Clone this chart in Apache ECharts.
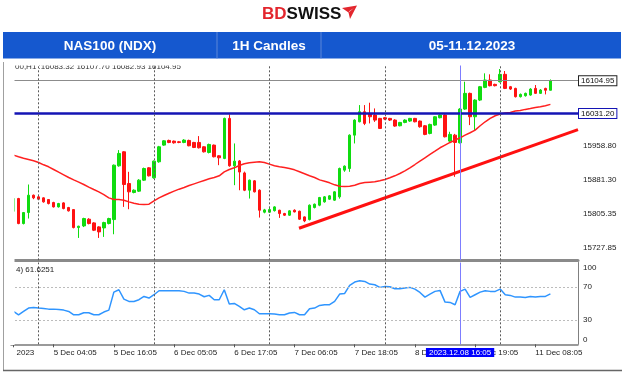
<!DOCTYPE html>
<html><head><meta charset="utf-8">
<script src="https://cdn.jsdelivr.net/npm/echarts@6/dist/echarts.min.js"></script>
<style>html,body{margin:0;padding:0;background:#fff;}#c{width:624px;height:375px;}</style>
</head><body><div id="c"></div>
<script>
// [open, close, low, high]
const candles = [
[15810.7,15839.3,15808.0,15842.0],[15839.3,15782.9,15781.4,15840.8],[15782.9,15807.7,15781.0,15809.0],[15807.7,15846.8,15794.2,15870.9],
[15846.8,15840.8,15837.8,15848.3],[15843.1,15837.8,15836.0,15845.0],[15840.8,15831.8,15830.0,15842.0],[15837.0,15828.0,15826.0,15838.0],
[15830.3,15820.5,15819.0,15832.0],[15820.5,15828.0,15819.0,15829.5],[15829.5,15816.7,15815.0,15831.0],[15819.0,15811.5,15810.0,15820.5],
[15814.4,15773.9,15772.0,15815.5],[15773.9,15776.9,15750.5,15778.0],[15777.6,15794.2,15775.0,15796.0],[15792.7,15782.9,15781.0,15795.0],
[15784.4,15767.9,15766.0,15786.0],[15775.4,15764.1,15750.5,15777.0],[15773.1,15785.1,15752.8,15787.0],[15782.9,15794.2,15781.0,15796.0],
[15791.9,15914.5,15758.8,15916.0],[15913.0,15940.9,15911.0,15948.4],[15944.6,15870.9,15820.5,15946.1],[15873.2,15854.4,15815.2,15899.5],
[15852.9,15858.1,15851.0,15860.0],[15855.9,15880.7,15854.0,15883.0],[15880.7,15907.0,15879.0,15909.0],[15908.5,15890.5,15889.0,15910.0],
[15886.0,15923.6,15884.0,15925.0],[15922.1,15955.9,15920.0,15958.0],[15959.7,15969.4,15958.0,15971.0],[15970.2,15965.7,15964.0,15972.0],
[15968.7,15964.9,15963.0,15970.0],[15967.2,15965.7,15964.0,15969.0],[15965.7,15971.0,15964.0,15973.0],[15970.2,15958.2,15957.0,15972.0],
[15965.7,15954.4,15953.0,15967.0],[15965.7,15953.7,15952.0,15980.0],[15955.9,15944.6,15943.0,15957.0],[15943.1,15961.2,15941.0,15963.0],
[15959.7,15933.4,15932.0,15961.0],[15935.6,15931.1,15914.5,15937.0],[15929.6,16019.9,15928.0,16021.5],[16019.9,15913.0,15911.0,16028.9],
[15913.0,15923.6,15869.4,15963.4],[15924.0,15899.0,15858.0,15926.0],[15897.0,15858.0,15856.0,15900.0],[15858.1,15880.7,15839.3,15882.0],
[15879.2,15854.4,15853.0,15881.0],[15858.1,15812.9,15796.4,15860.0],[15808.5,15813.7,15806.0,15816.0],[15808.5,15814.4,15807.0,15818.0],
[15812.0,15820.5,15810.0,15822.0],[15812.9,15805.4,15795.7,15814.0],[15805.4,15801.7,15800.0,15807.0],[15801.7,15811.5,15800.0,15813.0],
[15812.9,15809.2,15808.0,15815.0],[15810.7,15792.7,15791.0,15812.0],[15797.9,15788.9,15786.0,15799.0],[15791.9,15824.3,15790.0,15826.0],
[15819.0,15826.5,15817.0,15828.0],[15824.3,15841.6,15822.0,15843.0],[15831.8,15843.1,15830.0,15845.0],[15837.8,15845.3,15836.0,15847.0],
[15835.6,15854.4,15834.0,15856.0],[15843.1,15907.0,15839.0,15909.0],[15903.3,15912.3,15899.5,15914.0],[15907.0,15982.2,15899.5,15984.0],
[15982.2,16016.1,15963.4,16018.0],[16012.3,16034.9,16011.0,16049.9],[16034.9,16008.6,16004.8,16049.9],[16031.1,16023.6,16008.6,16055.2],
[16027.4,16016.1,16012.0,16042.4],[16019.9,15997.3,15996.0,16021.0],[16021.4,16018.4,16016.0,16023.0],[16019.9,16016.1,16014.0,16021.0],
[16016.1,16002.6,16001.0,16018.0],[16003.3,16010.8,16002.0,16012.0],[16010.8,16016.1,16009.0,16018.0],[16013.9,16019.9,16012.0,16021.0],
[16019.9,16012.3,16011.0,16021.0],[16013.9,16001.1,15999.0,16015.0],[16003.3,15983.8,15982.0,16005.0],[15986.0,16006.3,15984.0,16008.0],
[16004.8,16023.6,16003.0,16025.0],[16021.4,16027.4,16020.0,16029.0],[16027.4,15978.5,15977.0,16029.0],[15968.7,15983.8,15967.0,15989.8],
[15982.2,15965.7,15888.2,15985.0],[15964.9,16040.9,15963.4,16043.0],[16040.9,16076.3,16039.0,16102.6],[16076.3,16023.6,16004.8,16078.0],
[16023.6,16061.2,15993.8,16063.0],[16061.2,16091.3,16059.0,16093.0],[16089.8,16106.4,16088.0,16121.4],[16106.4,16093.6,16092.0,16119.2],
[16096.6,16093.6,16092.0,16098.0],[16102.6,16119.2,16101.0,16131.2],[16119.2,16087.5,16086.0,16126.7],[16091.3,16086.0,16084.0,16093.0],
[16087.5,16068.8,16067.0,16089.0],[16068.8,16074.0,16067.0,16076.0],[16071.0,16076.3,16069.0,16078.0],[16072.5,16086.0,16071.0,16088.0],
[16087.5,16076.3,16075.0,16095.1],[16076.3,16083.8,16075.0,16086.0],[16087.5,16083.3,16074.0,16089.0],[16083.32,16104.95,16082.93,16107.70]
];
const maValues = [15937.1,15933.4,15930.3,15927.3,15924.3,15920.6,15915.3,15910.8,15904.8,15898.7,
15892.7,15886.7,15881.4,15876.2,15870.9,15864.9,15859.6,15854.4,15848.3,15840.8,
15837.0,15837.0,15835.6,15831.8,15828.8,15826.5,15825.8,15826.5,15834.0,15840.8,
15846.1,15851.3,15855.9,15860.4,15864.1,15868.6,15872.4,15876.2,15880.0,15883.7,
15886.7,15890.5,15899.5,15904.8,15908.5,15913.8,15917.5,15919.8,15921.3,15922.1,
15920.6,15916.8,15913.0,15910.8,15909.3,15907.0,15904.0,15899.5,15895.0,15890.5,
15886.7,15881.4,15878.4,15874.7,15870.2,15867.2,15866.4,15867.2,15869.4,15873.2,
15875.4,15876.2,15876.9,15879.2,15882.2,15886.0,15890.5,15895.7,15901.8,15908.5,
15916.0,15923.6,15931.1,15938.6,15946.1,15953.7,15959.7,15965.7,15971.0,15976.2,
15982.2,15987.5,15993.5,16003.3,16012.3,16019.9,16025.9,16029.6,16031.9,16033.4,
16036.4,16037.9,16040.2,16042.4,16044.7,16046.2,16048.5,16051.5];
const oscValues = [40.2,36.1,40.2,44.3,45.1,44.3,43.9,43.0,43.0,42.6,
41.8,40.2,36.1,36.1,38.6,38.6,36.1,36.1,39.4,41.8,
63.8,66.7,55.3,52.4,52.4,54.5,58.5,56.5,60.6,65.5,
65.5,65.5,65.5,65.5,64.7,62.6,62.6,61.4,58.1,59.8,
54.5,54.5,66.7,49.2,50.0,46.3,42.2,44.3,42.2,37.3,
37.3,37.3,36.9,36.1,36.1,38.2,39.0,36.1,36.1,43.5,
44.3,47.5,48.4,48.4,52.4,61.4,62.2,72.0,76.1,77.7,
76.9,73.6,72.8,69.6,70.8,70.4,67.9,67.9,68.7,69.6,
67.5,63.4,57.7,61.4,64.7,65.9,51.6,51.2,48.4,64.7,
67.5,57.3,60.6,63.8,65.5,64.7,64.7,67.5,60.6,59.8,
57.7,57.7,57.3,58.5,57.7,58.5,58.5,61.6251];
const tickIdx = [0, 8, 20, 32, 44, 56, 68, 80, 92, 104];
const tickLabels = ['2023', '5 Dec 04:05', '5 Dec 16:05', '6 Dec 05:05', '6 Dec 17:05', '7 Dec 06:05', '7 Dec 18:05', '8 Dec 07:05', '8 Dec 19:05', '11 Dec 08:05'];
const priceTicks = [15727.85, 15805.35, 15881.30, 15958.80];
const oscTicks = [0, 30, 70, 100];
const oscLevels = [30, 70];
const dayLines = [5, 28, 51, 74, 97];
const crossIdx = 89;
const crossLabel = '2023.12.08 16:05';
const supportLevel = 16031.20;
const lastPrice = 16104.95;
const trendLine = [[56.9, 15772.3], [112.5, 15994.7]];
const headerTitles = ['NAS100 (NDX)', '1H Candles', '05-11.12.2023'];
const infoText = '00,H1 :16083.32 16107.70 16082.93 16104.95';
const oscInfo = '4) 61.6251';

const N = 113;
const categories = Array.from({length: N}, (_, i) => String(i));
const F = '"Liberation Sans", Arial, sans-serif';

const chart = echarts.init(document.getElementById('c'), null, {renderer: 'canvas'});

const vLines = () => dayLines.map(d => ({xAxis: d, lineStyle: {color: '#5a5a5a', type: [2, 2], width: 1}}))
  .concat([{xAxis: crossIdx, lineStyle: {color: '#7d7dff', type: 'solid', width: 1}}]);

const option = {
  animation: false,
  backgroundColor: '#fff',
  grid: [
    {left: 11, right: 46, top: 62, height: 198.3},
    {left: 11, right: 46, top: 262.5, height: 81.8}
  ],
  xAxis: [
    {type: 'category', gridIndex: 0, data: categories, boundaryGap: true,
     axisLine: {show: true, onZero: false, lineStyle: {color: '#8a8a8a', width: 3}},
     axisTick: {show: false}, axisLabel: {show: false}, splitLine: {show: false}},
    {type: 'value', gridIndex: 0, min: -0.5, max: N - 0.5, show: false},
    {type: 'category', gridIndex: 1, data: categories, boundaryGap: true,
     axisLine: {show: true, onZero: false, lineStyle: {color: '#7a7a7a', width: 1.5}},
     axisTick: {show: true, alignWithLabel: true, interval: (i) => tickIdx.includes(i), length: 3, lineStyle: {color: '#555'}},
     axisLabel: {interval: (i) => tickIdx.includes(i), align: 'left', margin: 4, fontSize: 8, color: '#222', fontFamily: F,
       formatter: (v, i) => { const j = tickIdx.indexOf(Number(v)); if (j < 0) return ''; return j === 0 ? '{p|' + tickLabels[j] + '}' : tickLabels[j]; },
       rich: {p: {padding: [0, 0, 0, 3], fontSize: 8, color: '#222', fontFamily: F}}},
     splitLine: {show: false}}
  ],
  yAxis: [
    {type: 'value', gridIndex: 0, position: 'right', min: 15700.1, max: 16147.0, scale: true,
     axisLine: {show: true, lineStyle: {color: '#808080'}},
     axisTick: {show: false},
     axisLabel: {customValues: priceTicks, formatter: v => Number(v).toFixed(2), fontSize: 8, color: '#222', margin: 5, fontFamily: F},
     splitLine: {show: false}},
    {type: 'value', gridIndex: 1, position: 'right', min: 0, max: 100,
     axisLine: {show: true, lineStyle: {color: '#808080'}},
     axisTick: {show: false},
     axisLabel: {customValues: oscTicks, showMinLabel: true, showMaxLabel: true, fontSize: 8, color: '#222', margin: 5, fontFamily: F,
       formatter: v => v === 100 ? '{t|100}' : (v === 0 ? '{b|0}' : String(v)),
       rich: {t: {padding: [11, 0, 0, 0], fontSize: 8, color: '#222', fontFamily: F}, b: {padding: [0, 0, 10, 0], fontSize: 8, color: '#222', fontFamily: F}}},
     splitLine: {show: false}}
  ],
  series: [
    {type: 'candlestick', xAxisIndex: 0, yAxisIndex: 0, data: candles, barWidth: 3, z: 2,
     itemStyle: {color: '#10dc10', color0: '#ff1212', borderColor: '#10dc10', borderColor0: '#ff1212', borderWidth: 1},
     markLine: {silent: true, symbol: 'none', animation: false,
       data: [
         {yAxis: supportLevel, lineStyle: {color: '#1414b4', width: 2.5, type: 'solid'},
          label: {show: true, position: 'end', distance: 1, formatter: p => Number(p.value).toFixed(2), fontSize: 8, fontFamily: F, color: '#111',
                  backgroundColor: '#fff', borderColor: '#1414b4', borderWidth: 1, padding: [1, 2, 0, 2]}},
         {yAxis: lastPrice, lineStyle: {color: '#8c8c8c', width: 1.2, type: 'solid'},
          label: {show: true, position: 'end', distance: 1, formatter: p => Number(p.value).toFixed(2), fontSize: 8, fontFamily: F, color: '#111',
                  backgroundColor: '#fff', borderColor: '#222', borderWidth: 1, padding: [1, 2, 0, 2]}}
       ]}},
    {type: 'line', xAxisIndex: 0, yAxisIndex: 0, data: maValues, symbol: 'none', z: 3,
     lineStyle: {color: '#ff2020', width: 1.5},
     markLine: {silent: true, symbol: 'none', animation: false, label: {show: false}, data: vLines()}},
    {type: 'line', xAxisIndex: 1, yAxisIndex: 0, data: trendLine, symbol: 'none', z: 4, clip: true,
     lineStyle: {color: '#ff1010', width: 3}},
    {type: 'line', xAxisIndex: 2, yAxisIndex: 1, data: oscValues, symbol: 'none', z: 3,
     lineStyle: {color: '#2f95ff', width: 1.5},
     markLine: {silent: true, symbol: 'none', animation: false, label: {show: false},
       data: oscLevels.map(l => ({yAxis: l, lineStyle: {color: '#bcbcbc', type: [2, 2], width: 1}})).concat(vLines())}}
  ]
};
chart.setOption(option);

const cx = chart.convertToPixel({xAxisIndex: 2}, crossIdx);
const hdr = '#1558cf';
chart.setOption({
  graphic: [
    {type: 'rect', z: 50, shape: {x: 0, y: 58, width: 14.5, height: 287}, style: {fill: '#fff'}},
    {type: 'text', z: 49, x: 15, y: 67, style: {text: infoText, font: '8px ' + F, fill: '#333', verticalAlign: 'middle'}},
    {type: 'rect', z: 50, shape: {x: 0, y: 58, width: 624, height: 7.5}, style: {fill: '#fff'}},
    {type: 'line', z: 60, shape: {x1: 3.5, y1: 62, x2: 3.5, y2: 370}, style: {stroke: '#a0a0a0', lineWidth: 1}},
    {type: 'line', z: 60, shape: {x1: 3, y1: 370.5, x2: 622, y2: 370.5}, style: {stroke: '#666', lineWidth: 1.5}},
    {type: 'rect', z: 70, shape: {x: 3, y: 32, width: 618, height: 26.5}, style: {fill: hdr}},
    {type: 'line', z: 71, shape: {x1: 217, y1: 32, x2: 217, y2: 58.5}, style: {stroke: '#5d86d8', lineWidth: 1}},
    {type: 'line', z: 71, shape: {x1: 321, y1: 32, x2: 321, y2: 58.5}, style: {stroke: '#5d86d8', lineWidth: 1}},
    {type: 'text', z: 72, x: 110, y: 46, style: {text: headerTitles[0], font: 'bold 13.5px ' + F, fill: '#fff', align: 'center', verticalAlign: 'middle'}},
    {type: 'text', z: 72, x: 269, y: 46, style: {text: headerTitles[1], font: 'bold 13.5px ' + F, fill: '#fff', align: 'center', verticalAlign: 'middle'}},
    {type: 'text', z: 72, x: 472, y: 46, style: {text: headerTitles[2], font: 'bold 13.5px ' + F, fill: '#fff', align: 'center', verticalAlign: 'middle'}},
    {type: 'text', z: 72, x: 262, y: 14, style: {text: '{r|BD}{k|SWISS}', verticalAlign: 'middle',
      rich: {r: {fill: '#e3262d', font: 'bold 17px ' + F}, k: {fill: '#111', font: 'bold 17px ' + F}}}},
    {type: 'polygon', z: 72, shape: {points: [[342, 8], [357, 5.5], [350, 19], [348.5, 12.5]]}, style: {fill: '#e3262d'}},
    {type: 'polygon', z: 73, shape: {points: [[348.5, 12.5], [354, 8], [349.5, 11]]}, style: {fill: '#fff'}},
    {type: 'text', z: 61, x: 16, y: 270, style: {text: oscInfo, font: '8px ' + F, fill: '#222', verticalAlign: 'middle'}},
    {type: 'text', z: 80, x: cx, y: 352.5, style: {text: crossLabel, font: '8px ' + F, fill: '#fff', backgroundColor: '#0000ff',
      padding: [1, 3, 0, 3], align: 'center', verticalAlign: 'middle'}}
  ]
});
</script>
</body></html>
